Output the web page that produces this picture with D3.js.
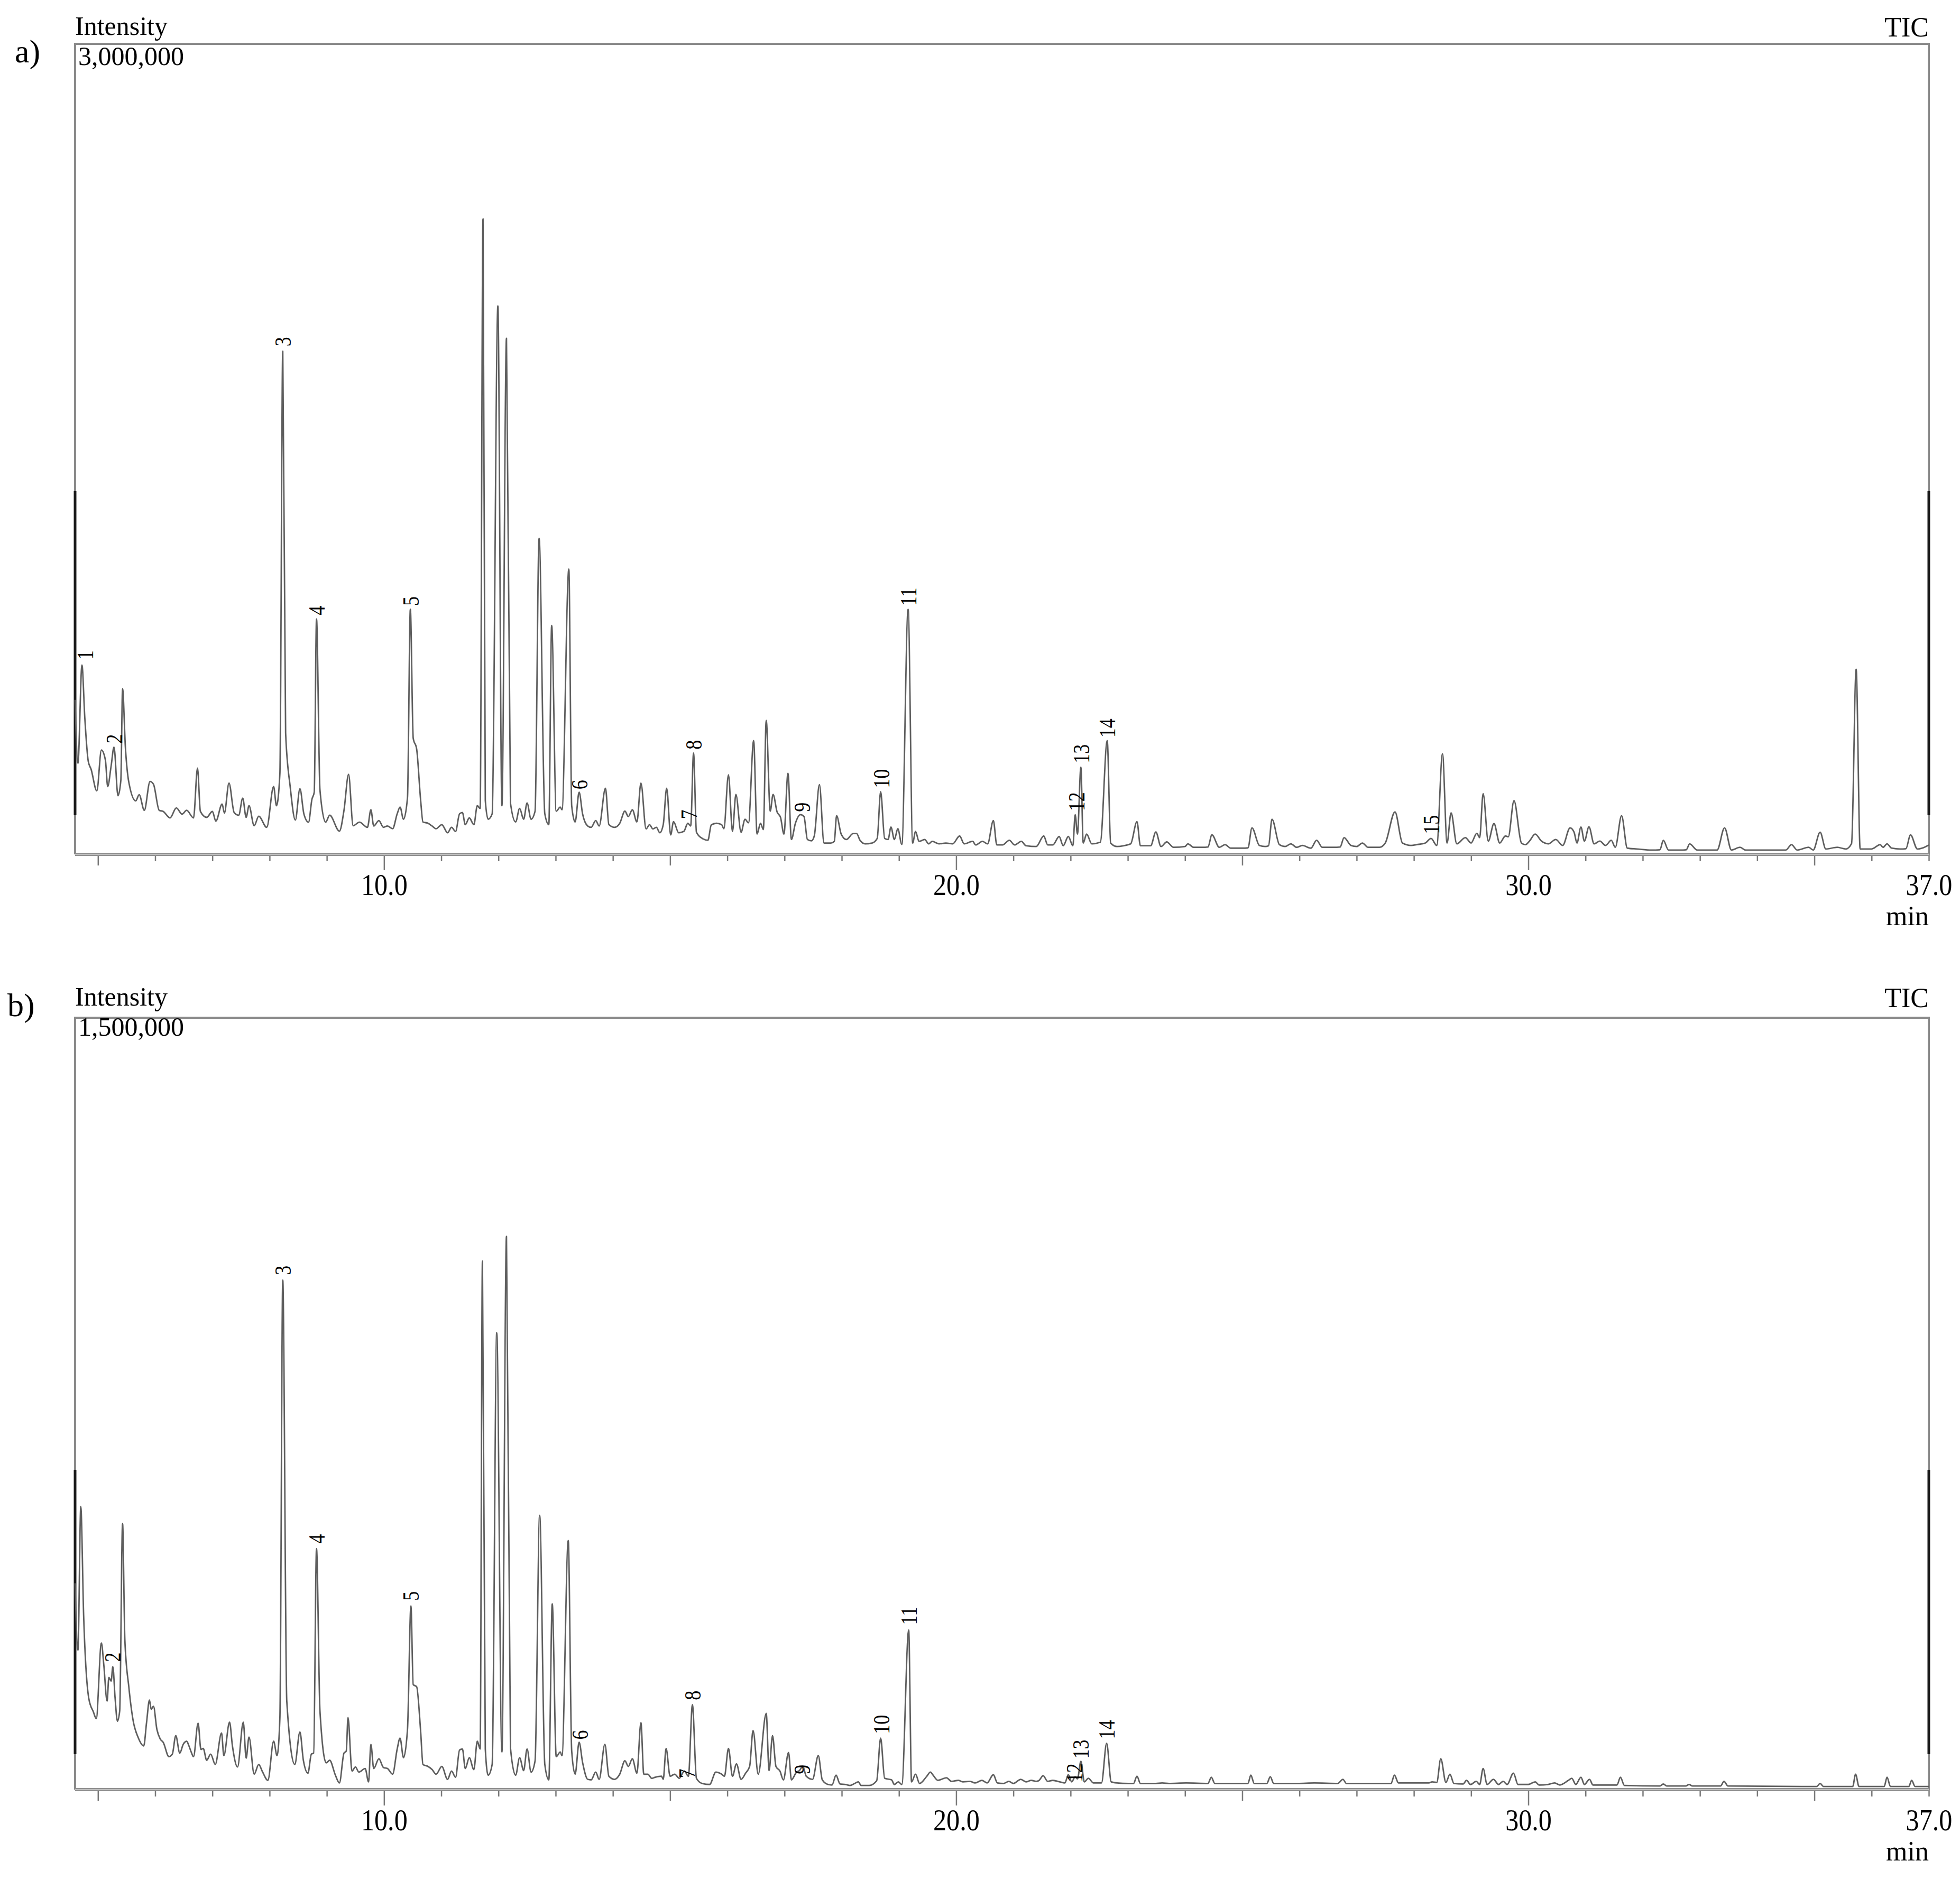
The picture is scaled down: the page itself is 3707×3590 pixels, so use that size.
<!DOCTYPE html>
<html><head><meta charset="utf-8">
<script src="https://cdn.jsdelivr.net/npm/d3@7"></script>
<style>body{margin:0;background:#fff}svg{display:block}</style>
</head><body>
<svg id="c" width="3707" height="3590"></svg>
<script>
// ---------- DATA ----------
const timeDomain = [4.6, 37.0];                 // min
const tickLabelTimes = [10, 20, 30, 37];
const tickLabels = ["10.0", "20.0", "30.0", "37.0"];
const panelNames = ["a)", "b)"];
const panelMaxLabels = ["3,000,000", "1,500,000"];
const panelMax = [3000, 1500];                  // intensity, thousand counts
const detectorName = "TIC";
const yTitle = "Intensity";
const xUnit = "min";

// panel a trace: [time (min), intensity (x1000 counts)]
const traceA = [
[4.60,572],[4.65,337],[4.72,701],[4.77,505],[4.83,345],[4.88,315],[4.98,235],[5.06,386],[5.13,349],[5.17,251],
[5.23,327],[5.28,397],[5.35,217],[5.40,274],[5.43,613],[5.48,394],[5.54,266],[5.66,198],[5.72,221],[5.81,163],
[5.91,270],[5.97,260],[6.07,163],[6.14,159],[6.26,135],[6.37,172],[6.47,149],[6.55,163],[6.67,135],[6.74,319],
[6.79,159],[6.90,137],[7.00,159],[7.06,123],[7.17,186],[7.21,153],[7.29,264],[7.38,155],[7.46,145],[7.53,208],
[7.59,137],[7.64,180],[7.73,106],[7.81,141],[7.95,100],[8.07,251],[8.12,180],[8.18,300],[8.23,1862],[8.28,449],
[8.36,250],[8.45,127],[8.53,243],[8.60,149],[8.68,119],[8.74,204],[8.78,230],[8.82,871],[8.88,239],[8.98,119],
[9.05,145],[9.22,86],[9.30,163],[9.38,296],[9.46,106],[9.57,119],[9.71,100],[9.77,165],[9.82,105],[9.91,125],
[9.99,100],[10.06,105],[10.15,95],[10.23,150],[10.28,175],[10.34,130],[10.41,210],[10.46,907],[10.51,430],[10.57,390],
[10.64,200],[10.68,120],[10.77,115],[10.84,105],[10.91,95],[11.01,110],[11.11,80],[11.18,100],[11.25,85],[11.32,150],
[11.37,155],[11.42,110],[11.49,135],[11.57,110],[11.63,180],[11.68,170],[11.73,2352],[11.77,200],[11.82,130],[11.89,150],
[11.99,2030],[12.06,180],[12.14,1910],[12.21,190],[12.30,120],[12.37,170],[12.44,130],[12.50,190],[12.57,130],[12.64,160],
[12.71,1170],[12.81,150],[12.88,110],[12.93,847],[13.01,160],[13.08,175],[13.11,165],[13.23,1056],[13.28,180],[13.34,120],
[13.41,230],[13.47,150],[13.56,105],[13.62,100],[13.70,125],[13.76,105],[13.87,245],[13.93,110],[14.03,100],[14.12,115],
[14.21,160],[14.27,140],[14.34,165],[14.42,120],[14.49,264],[14.58,94],[14.64,110],[14.70,94],[14.76,100],[14.82,80],
[14.88,110],[14.94,245],[15.01,72],[15.06,121],[15.15,80],[15.24,85],[15.31,115],[15.36,105],[15.41,375],[15.46,82],
[15.58,57],[15.66,52],[15.72,109],[15.81,115],[15.90,110],[15.94,95],[16.02,294],[16.09,85],[16.15,222],[16.24,82],
[16.31,130],[16.37,117],[16.46,421],[16.52,75],[16.58,115],[16.63,92],[16.68,496],[16.75,160],[16.80,222],[16.87,157],
[16.93,137],[16.99,75],[17.06,300],[17.12,55],[17.19,115],[17.28,147],[17.34,140],[17.40,55],[17.47,50],[17.52,68],
[17.61,258],[17.69,42],[17.81,42],[17.87,48],[17.91,143],[17.99,75],[18.08,55],[18.20,77],[18.26,77],[18.32,52],
[18.41,39],[18.53,42],[18.62,59],[18.68,232],[18.75,59],[18.81,55],[18.86,101],[18.92,55],[18.98,95],[19.05,37],
[19.16,907],[19.24,42],[19.29,85],[19.35,48],[19.45,55],[19.52,39],[19.58,48],[19.70,39],[19.82,42],[19.94,39],
[20.06,68],[20.14,39],[20.29,48],[20.34,35],[20.46,48],[20.55,39],[20.65,125],[20.71,35],[20.81,35],[20.93,52],
[21.02,35],[21.14,48],[21.22,32],[21.40,29],[21.53,68],[21.60,35],[21.69,35],[21.80,66],[21.87,32],[21.96,66],
[22.04,32],[22.08,147],[22.12,75],[22.18,323],[22.22,42],[22.28,75],[22.37,39],[22.52,45],[22.64,421],[22.70,42],
[22.81,29],[22.93,32],[23.05,39],[23.16,121],[23.22,32],[23.40,32],[23.49,83],[23.58,29],[23.68,46],[23.80,26],
[24.00,29],[24.05,39],[24.15,26],[24.30,26],[24.40,27],[24.47,72],[24.60,26],[24.70,36],[24.80,23],[25.00,23],[25.10,24],[25.17,98],
[25.30,33],[25.40,29],[25.46,32],[25.52,130],[25.65,36],[25.75,29],[25.85,39],[25.95,26],[26.05,33],[26.20,23],[26.30,52],
[26.40,26],[26.60,26],[26.71,27],[26.78,62],[26.90,33],[27.00,29],[27.10,42],[27.20,26],[27.40,26],[27.50,42],[27.67,157],
[27.80,42],[27.95,33],[28.05,36],[28.20,42],[28.30,59],[28.40,33],[28.50,372],[28.58,42],[28.65,154],[28.75,39],
[28.90,62],[29.00,42],[29.10,78],[29.15,62],[29.21,225],[29.30,49],[29.40,114],[29.50,42],[29.60,68],[29.65,65],
[29.75,199],[29.88,42],[29.95,36],[30.02,49],[30.12,75],[30.23,49],[30.35,39],[30.48,55],[30.60,33],[30.73,98],
[30.80,82],[30.85,42],[30.92,101],[30.98,49],[31.06,102],[31.15,39],[31.25,49],[31.35,33],[31.45,52],[31.52,26],
[31.63,143],[31.73,23],[31.90,20],[32.15,16],[32.30,17],[32.36,52],[32.45,16],[32.65,16],[32.76,17],[32.82,39],[32.95,16],[33.30,16],
[33.43,98],[33.55,16],[33.70,26],[33.80,16],[34.50,16],[34.60,36],[34.70,16],[34.90,26],[34.98,16],[35.10,82],
[35.20,20],[35.40,26],[35.55,20],[35.65,40],[35.73,685],[35.80,20],[36.00,20],[36.15,36],[36.20,26],[36.27,39],
[36.35,23],[36.50,20],[36.60,21],[36.68,72],[36.80,20],[36.95,29],[37.00,35]
];

// panel b trace: [time (min), intensity (x1000 counts)]
const traceB = [
[4.60,401],[4.65,271],[4.70,550],[4.75,337],[4.84,177],[4.92,151],[4.97,138],[5.06,285],[5.10,245],[5.16,172],
[5.19,218],[5.23,211],[5.26,239],[5.30,177],[5.34,133],[5.38,153],[5.43,517],[5.47,291],[5.54,199],[5.62,131],
[5.70,102],[5.80,85],[5.85,131],[5.90,174],[5.93,156],[5.97,162],[6.03,117],[6.09,98],[6.14,92],[6.24,64],
[6.30,69],[6.36,105],[6.43,71],[6.49,88],[6.55,94],[6.59,85],[6.63,73],[6.67,64],[6.75,129],[6.80,78],
[6.84,80],[6.90,57],[6.97,69],[7.05,49],[7.16,110],[7.20,66],[7.30,131],[7.35,85],[7.44,44],[7.54,131],
[7.59,61],[7.64,102],[7.73,30],[7.81,49],[7.87,36],[7.97,18],[8.07,94],[8.13,66],[8.18,140],[8.23,990],
[8.30,172],[8.44,49],[8.53,112],[8.59,57],[8.67,32],[8.73,69],[8.77,71],[8.82,468],[8.88,153],[8.99,52],
[9.05,57],[9.15,28],[9.22,13],[9.30,71],[9.34,75],[9.37,140],[9.44,36],[9.50,44],[9.56,34],[9.67,41],
[9.73,15],[9.77,88],[9.82,41],[9.91,60],[9.99,43],[10.06,41],[10.15,30],[10.23,79],[10.28,100],[10.34,62],
[10.41,117],[10.47,357],[10.51,204],[10.57,200],[10.64,113],[10.68,49],[10.77,45],[10.84,39],[10.91,30],[11.01,45],
[11.11,20],[11.18,36],[11.25,24],[11.32,77],[11.37,79],[11.42,41],[11.49,62],[11.57,39],[11.63,94],[11.68,79],
[11.72,1027],[11.77,79],[11.82,28],[11.89,49],[11.97,888],[12.06,73],[12.14,1075],[12.21,81],[12.30,28],[12.37,62],
[12.44,37],[12.50,79],[12.57,34],[12.64,56],[12.72,533],[12.81,49],[12.88,19],[12.94,361],[13.01,64],[13.08,73],
[13.11,66],[13.22,484],[13.28,75],[13.34,30],[13.41,92],[13.47,53],[13.56,20],[13.62,19],[13.70,34],[13.76,20],
[13.86,88],[13.93,26],[14.03,20],[14.12,30],[14.21,56],[14.27,45],[14.34,60],[14.42,32],[14.49,130],[14.54,30],
[14.61,30],[14.68,22],[14.74,24],[14.85,26],[14.88,20],[14.93,80],[15.00,26],[15.08,30],[15.16,22],[15.25,36],
[15.32,26],[15.39,165],[15.46,22],[15.56,12],[15.69,10],[15.80,34],[15.90,30],[15.95,26],[16.02,80],[16.09,26],
[16.16,50],[16.24,20],[16.32,32],[16.39,45],[16.45,115],[16.54,30],[16.68,148],[16.73,37],[16.79,105],[16.85,45],
[16.92,36],[16.98,19],[17.07,72],[17.12,19],[17.21,34],[17.26,37],[17.32,45],[17.38,26],[17.49,20],[17.59,66],
[17.66,19],[17.76,10],[17.83,9],[17.90,28],[17.97,11],[18.07,10],[18.14,8],[18.21,11],[18.29,15],[18.34,8],
[18.48,8],[18.61,17],[18.68,100],[18.75,22],[18.87,19],[18.92,10],[18.99,15],[19.05,10],[19.17,310],[19.22,15],
[19.29,30],[19.36,12],[19.48,25],[19.55,34],[19.59,29],[19.68,18],[19.83,23],[19.92,16],[20.04,18],[20.12,15],
[20.24,16],[20.33,13],[20.45,18],[20.54,13],[20.65,29],[20.72,13],[20.83,12],[20.92,16],[21.00,12],[21.13,20],
[21.22,15],[21.31,18],[21.40,16],[21.45,18],[21.52,27],[21.60,16],[21.69,18],[21.81,15],[21.90,13],[21.96,29],
[22.02,15],[22.08,25],[22.12,21],[22.18,55],[22.24,15],[22.31,22],[22.40,13],[22.54,13],[22.63,90],[22.71,15],
[22.81,13],[23.01,12],[23.10,12],[23.16,26],[23.22,12],[23.49,12],[23.60,13],[23.72,12],[24.02,13],[24.40,12],[24.46,24],[24.52,12],
[25.02,12],[25.10,12],[25.15,28],[25.21,12],[25.43,12],[25.49,25],[25.55,12],[25.97,12],[26.26,13],[26.67,12],[26.76,20],
[26.82,12],[27.50,12],[27.60,12],[27.66,28],[27.73,13],[28.26,13],[28.32,15],[28.40,14],[28.47,60],[28.56,14],[28.63,30],[28.70,12],
[28.86,11],[28.92,18],[28.99,10],[29.09,16],[29.15,10],[29.21,41],[29.28,10],[29.39,20],[29.48,10],[29.56,16],[29.63,10],
[29.74,32],[29.82,10],[30.00,10],[30.12,15],[30.19,9],[30.34,10],[30.46,13],[30.55,9],[30.70,18],[30.76,22],
[30.83,10],[30.92,24],[30.98,10],[31.07,20],[31.13,9],[31.24,9],[31.55,9],[31.61,24],[31.68,8],[32.30,7],[32.36,11],
[32.42,7],[32.75,7],[32.81,10],[32.87,7],[33.36,7],[33.42,16],[33.49,7],[35.04,6],[35.10,12],[35.16,6],
[35.67,6],[35.72,30],[35.78,6],[36.22,6],[36.27,24],[36.33,6],[36.65,6],[36.70,18],[36.76,6],[37.00,6]
];

// peak labels: [label, time (min), intensity at label foot (x1000 counts)]
const peaksA = [
["1",4.78,720],["2",5.28,410],["3",8.23,1880],["4",8.82,885],["5",10.47,920],["6",13.42,240],["7",15.33,130],
["8",15.41,388],["9",17.31,157],["10",18.69,245],["11",19.16,920],["12",22.10,160],["13",22.19,337],["14",22.64,432],
["15",28.30,75]
];
const peaksB = [
["2",5.26,248],["3",8.23,1000],["4",8.82,478],["5",10.47,367],["6",13.43,97],["7",15.29,22],["8",15.39,174],
["9",17.31,30],["10",18.69,108],["11",19.17,320],["12",22.07,14],["13",22.18,60],["14",22.63,98]
];

// ---------- DRAW ----------
const FONT = "'Liberation Serif','Times New Roman',serif";
const L = 142, R = 3648;
const layout = [
  {top: 83,   bottom: 1616, dy: 0,    markTop: 929,  markBottom: 1542},
  {top: 1925, bottom: 3385, dy: 1836, markTop: 2780, markBottom: 3318}
];
const traces = [traceA, traceB];
const peaks = [peaksA, peaksB];
const svg = d3.select("#c");
const x = d3.scaleLinear().domain(timeDomain).range([L, R]);

layout.forEach((p, i) => {
  const y = d3.scaleLinear().domain([0, panelMax[i]]).range([p.bottom, p.top]);
  const g = svg.append("g");

  // frame (top, left, right)
  g.append("path")
    .attr("d", `M${L},${p.bottom}V${p.top}H${R}V${p.bottom}`)
    .attr("fill", "none").attr("stroke", "#8a8a8a").attr("stroke-width", 4);
  // dark markers on the side edges
  [L, R].forEach(xx => g.append("line")
    .attr("x1", xx).attr("x2", xx)
    .attr("y1", p.markTop).attr("y2", p.markBottom)
    .attr("stroke", "#1a1a1a").attr("stroke-width", 5));

  // x axis: minor / medium / major ticks
  const allT = d3.range(5, 38);
  const tickSets = [
    {vals: allT.filter(t => t % 5 !== 0), len: 13},
    {vals: allT.filter(t => t % 5 === 0 && t % 10 !== 0), len: 21},
    {vals: allT.filter(t => t % 10 === 0), len: 30}
  ];
  tickSets.forEach(ts => {
    const ax = g.append("g").attr("transform", `translate(0,${p.bottom})`)
      .call(d3.axisBottom(x).tickValues(ts.vals).tickSize(ts.len).tickSizeOuter(0).tickFormat(""));
    ax.select(".domain").remove();
    ax.selectAll(".tick line").attr("stroke", "#7a7a7a").attr("stroke-width", 2.5);
  });
  // axis base line (doubled gray look)
  g.append("line").attr("x1", L).attr("x2", R).attr("y1", p.bottom).attr("y2", p.bottom)
    .attr("stroke", "#8f8f8f").attr("stroke-width", 6);
  g.append("line").attr("x1", L).attr("x2", R).attr("y1", p.bottom).attr("y2", p.bottom)
    .attr("stroke", "#d0d0d0").attr("stroke-width", 1.5);

  // tick labels
  const lab = g.append("g").attr("transform", `translate(0,${p.bottom})`)
    .call(d3.axisBottom(x).tickValues(tickLabelTimes).tickSize(0).tickPadding(0)
      .tickFormat((d, k) => tickLabels[k]));
  lab.select(".domain").remove();
  lab.selectAll(".tick text")
    .attr("font-family", FONT).attr("font-size", 57).attr("fill", "#000")
    .attr("dy", null).attr("y", 77).attr("transform", "scale(0.88,1)");

  // unit
  g.append("text").attr("x", R).attr("y", p.bottom + 134).attr("text-anchor", "end")
    .attr("font-family", FONT).attr("font-size", 52).text(xUnit);

  // titles
  g.append("text").attr("x", L).attr("y", 66 + p.dy)
    .attr("font-family", FONT).attr("font-size", 50).text(yTitle);
  g.append("text").attr("x", R).attr("y", 69 + p.dy).attr("text-anchor", "end")
    .attr("font-family", FONT).attr("font-size", 52).text(detectorName);
  g.append("text").attr("x", 148).attr("y", 123 + p.dy)
    .attr("font-family", FONT).attr("font-size", 50).text(panelMaxLabels[i]);
  g.append("text").attr("x", i === 0 ? 28 : 14).attr("y", i === 0 ? 118 : 1922)
    .attr("font-family", FONT).attr("font-size", 62).text(panelNames[i]);

  // trace
  const line = d3.line().x(d => x(d[0])).y(d => y(d[1])).curve(d3.curveMonotoneX);
  g.append("path").datum(traces[i]).attr("d", line)
    .attr("fill", "none").attr("stroke", "#5e5e5e").attr("stroke-width", 2.8)
    .attr("stroke-linejoin", "round");

  // peak labels (rotated)
  g.selectAll("text.pk").data(peaks[i]).join("text")
    .attr("class", "pk")
    .attr("transform", d => `translate(${x(d[1])},${y(d[2])}) rotate(-90) scale(0.82,1)`)
    .attr("dy", "0.34em")
    .attr("font-family", FONT).attr("font-size", 44).attr("fill", "#000")
    .text(d => d[0]);
});
</script>
</body></html>
